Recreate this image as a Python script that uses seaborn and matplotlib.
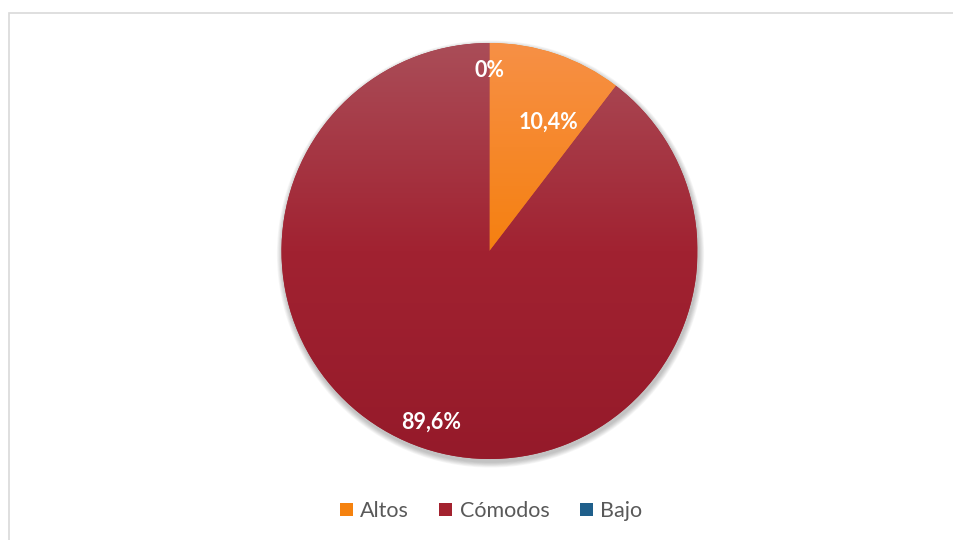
import numpy as np
import matplotlib
matplotlib.use("Agg")
import matplotlib.pyplot as plt
from matplotlib.colors import LinearSegmentedColormap
from matplotlib.patches import Patch, Rectangle, Circle
import seaborn as sns

# Data
categories = ["Altos", "Cómodos", "Bajo"]
values = [10.4, 89.6, 0.0]
pct_labels = ["10,4%", "89,6%", "0%"]

# Styling
base_colors = ["#f5820f", "#a3222f", "#1f5f8b"]
gradients = [
    ["#f79046", "#f58010", "#ea760a"],
    ["#aa4d58", "#a12231", "#951a2a"],
    ["#3b78a6", "#1f5f8b", "#184d72"],
]
label_dist = [0.68, 0.87, 0.87]
label_nudge = [-6.0, 0.0, 0.0]

sns.set_theme(style="white")
plt.rcParams["font.family"] = ["Lato", "DejaVu Sans"]

W, H = 954, 540
fig = plt.figure(figsize=(W / 100, H / 100), dpi=100)
ax = fig.add_axes([0, 0, 1, 1])

cx, cy, R = 489.5, H - 251, 208

# soft shadow under the pie
for k in range(7, 0, -1):
    ax.add_patch(Circle((cx + 1, cy - 3), R + k * 0.8, color="#000000",
                        alpha=0.035, lw=0, zorder=1))

wedges, _ = ax.pie(values, startangle=90, counterclock=False,
                   center=(cx, cy), radius=R, colors=base_colors,
                   wedgeprops=dict(linewidth=0), frame=True)
ax.set_xlim(0, W)
ax.set_ylim(0, H)
ax.set_aspect("equal")
ax.axis("off")

# vertical gradient fill clipped to each wedge
grad = np.linspace(0, 1, 256).reshape(-1, 1)
for w, stops in zip(wedges, gradients):
    w.set_zorder(2)
    cmap = LinearSegmentedColormap.from_list("g", stops)
    im = ax.imshow(grad, cmap=cmap, aspect="auto",
                   extent=(cx - R, cx + R, cy - R, cy + R),
                   origin="upper", zorder=3)
    im.set_clip_path(w)

# percentage labels at each slice's mid-angle
total = sum(values)
start = 90.0
for v, lab, d, nud in zip(values, pct_labels, label_dist, label_nudge):
    span = 360.0 * v / total
    mid = np.deg2rad(start - span / 2 + nud)
    start -= span
    x = cx + d * R * np.cos(mid)
    y = cy + d * R * np.sin(mid)
    ax.text(x, y, lab, color="white", fontsize=15.5, fontweight="bold",
            ha="center", va="center", zorder=5)

# legend
handles = [Patch(facecolor=c, edgecolor="none") for c in base_colors]
fig.legend(handles, categories, loc="center", bbox_to_anchor=(491 / W, 1 - 511 / H),
           ncol=3, frameon=False, fontsize=15.5, handlelength=0.6, handleheight=0.6,
           handletextpad=0.35, columnspacing=1.4, labelcolor="#595959")

# chart area border (runs off the right and bottom edges)
fig.patches.append(Rectangle((9.5 / W, -0.05), 1.1, 1.05 - 13.5 / H,
                             transform=fig.transFigure,
                             fill=False, edgecolor="#d9d9d9", linewidth=1.2))

fig.savefig("out.png", dpi=100, facecolor="white")
